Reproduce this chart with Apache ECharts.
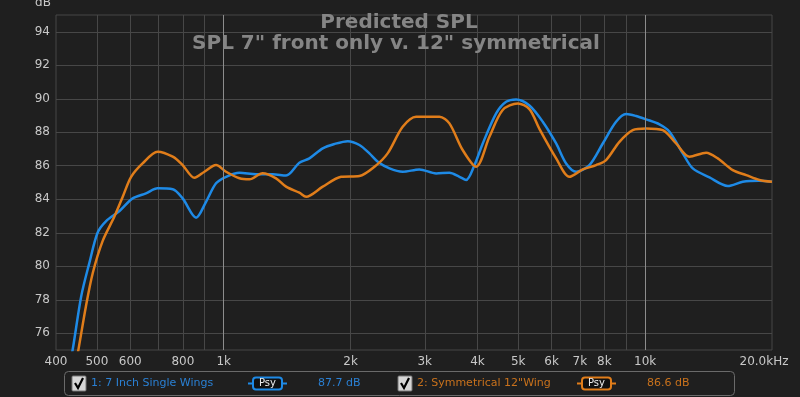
<!DOCTYPE html>
<html>
<head>
<meta charset="utf-8">
<script src="https://cdn.jsdelivr.net/npm/echarts@6.0.0/dist/echarts.min.js"></script>
<style>
  html, body { margin: 0; padding: 0; background: #1f1f1f; }
  #chart { width: 800px; height: 397px; }
</style>
</head>
<body>
<div id="chart"></div>
<script>
// frequency (Hz) / level (dB)
var blueFreq = [432, 438, 459, 480, 502, 526, 566, 608, 654, 697, 757, 799, 860, 908, 959, 1013, 1090, 1194, 1307, 1406,
    1512, 1597, 1718, 1831, 1970, 2099, 2217, 2321, 2474, 2659, 2913, 3192, 3432, 3626, 3760, 3936, 4118, 4431, 4679, 4943,
    5314, 5715, 6150, 6494, 6860, 7375, 7934, 8531, 9016, 9520, 10056, 10815, 11423, 12283, 12973, 14212, 15704, 17046, 18667, 20000];
var blueDb = [74.4, 75.0, 78.2, 80.2, 82.0, 82.7, 83.3, 84.05, 84.35, 84.65, 84.6, 84.05, 82.9, 83.85, 84.95, 85.34, 85.58, 85.49, 85.49, 85.42,
    86.18, 86.44, 87.04, 87.3, 87.47, 87.24, 86.74, 86.24, 85.84, 85.64, 85.78, 85.54, 85.58, 85.34, 85.15, 86.04, 87.33, 89.13, 89.82, 89.96,
    89.6, 88.63, 87.33, 86.14, 85.64, 86.04, 87.33, 88.63, 89.09, 88.97, 88.77, 88.47, 88.03, 86.74, 85.84, 85.3, 84.79, 85.04, 85.1, 85.04];

var orangeFreq = [447, 452, 471, 489, 516, 550, 576, 603, 642, 697, 757, 799, 852, 900, 959, 1013, 1090, 1151, 1237, 1331,
    1406, 1512, 1569, 1718, 1899, 2099, 2279, 2449, 2659, 2861, 3251, 3432, 3690, 3971, 4271, 4592, 4986, 5314, 5612, 6150,
    6613, 7112, 7651, 8078, 8690, 9346, 10056, 11011, 11842, 12743, 13958, 14871, 16143, 17370, 18667, 20000];
var orangeDb = [74.4, 75.0, 77.6, 79.6, 81.5, 82.95, 84.15, 85.34, 86.14, 86.84, 86.54, 86.04, 85.28, 85.64, 86.04, 85.64, 85.25, 85.19, 85.55, 85.25,
    84.75, 84.39, 84.15, 84.75, 85.34, 85.39, 85.94, 86.74, 88.33, 88.93, 88.93, 88.53, 86.94, 85.94, 87.73, 89.33, 89.72, 89.38, 88.2, 86.44,
    85.34, 85.78, 86.04, 86.34, 87.43, 88.13, 88.23, 88.13, 87.33, 86.54, 86.78, 86.44, 85.74, 85.44, 85.15, 85.04];

var gridFreqs = [500, 600, 700, 800, 900, 1000, 2000, 3000, 4000, 5000, 6000, 7000, 8000, 9000, 10000];
var majorFreqs = [1000, 10000];
var labelFreqs = [400, 500, 600, 800, 1000, 2000, 3000, 4000, 5000, 6000, 7000, 8000, 10000, 20000];
var labelTexts = ['400', '500', '600', '800', '1k', '2k', '3k', '4k', '5k', '6k', '7k', '8k', '10k', '20.0kHz'];
var dbTicks = [76, 78, 80, 82, 84, 86, 88, 90, 92, 94];

var legendNames = ['1: 7 Inch Single Wings', '2: Symmetrical 12"Wing'];
var legendValues = ['87.7 dB', '86.6 dB'];

var blue = '#1e8ae6';
var orange = '#e07d1a';

function pairs(freq, db) {
    return freq.map(function (f, i) { return [Math.log10(f), db[i]]; });
}

var chart = echarts.init(document.getElementById('chart'));

// legend strip drawn as graphic elements
function legendItem(x0, name, value, color, textColor, psyX, valX) {
    return [
        { type: 'rect', shape: { x: x0, y: 376, width: 14, height: 15, r: 1 },
          style: { fill: '#d6d6d6', stroke: '#777', lineWidth: 1 }, z: 100 },
        { type: 'polyline', shape: { points: [[x0 + 3, x0 ? 383 : 383], [x0 + 6, 388], [x0 + 11, 378]] },
          style: { stroke: '#000', lineWidth: 2.2, fill: null }, z: 101 },
        { type: 'text', x: x0 + 19, y: 383.5,
          style: { text: name, fill: textColor, font: '11px "DejaVu Sans"', textVerticalAlign: 'middle' }, z: 100 },
        { type: 'line', shape: { x1: psyX - 5, y1: 383.5, x2: psyX + 34, y2: 383.5 },
          style: { stroke: color, lineWidth: 2 }, z: 100 },
        { type: 'rect', shape: { x: psyX, y: 377.5, width: 29, height: 12, r: 3 },
          style: { fill: '#111', stroke: color, lineWidth: 2 }, z: 101 },
        { type: 'text', x: psyX + 14.5, y: 383.5,
          style: { text: 'Psy', fill: '#eee', font: '10px "DejaVu Sans"', textAlign: 'center', textVerticalAlign: 'middle' }, z: 102 },
        { type: 'text', x: valX, y: 383.5,
          style: { text: value, fill: textColor, font: '11px "DejaVu Sans"', textVerticalAlign: 'middle' }, z: 100 }
    ];
}

var graphics = [
    { type: 'text', x: 399, y: 23,
      style: { text: 'Predicted SPL', fill: '#858585', font: 'bold 20px "DejaVu Sans"', textAlign: 'center', textVerticalAlign: 'middle' }, z: 100 },
    { type: 'text', x: 396, y: 44,
      style: { text: 'SPL 7" front only v. 12" symmetrical', fill: '#858585', font: 'bold 20px "DejaVu Sans"', textAlign: 'center', textVerticalAlign: 'middle' }, z: 100 },
    { type: 'text', x: 43, y: 3,
      style: { text: 'dB', fill: '#c8c8c8', font: '12px "DejaVu Sans"', textAlign: 'center', textVerticalAlign: 'middle' }, z: 100 },
    { type: 'rect', shape: { x: 64.5, y: 371.5, width: 670, height: 24, r: 4 },
      style: { fill: 'transparent', stroke: '#6a6a6a', lineWidth: 1 }, z: 99 }
].concat(
    legendItem(72, legendNames[0], legendValues[0], blue, '#2a80d4', 253, 318),
    legendItem(398, legendNames[1], legendValues[1], orange, '#c9721c', 582, 647)
);

var option = {
    backgroundColor: '#1f1f1f',
    animation: false,
    grid: {
        left: 56, right: 28, top: 15, bottom: 47,
        show: true, borderColor: '#474747', borderWidth: 1
    },
    xAxis: {
        type: 'value',
        min: Math.log10(400),
        max: Math.log10(20000),
        axisLine: { show: false },
        axisTick: { show: false, customValues: gridFreqs.map(Math.log10) },
        splitLine: { show: true, lineStyle: { color: '#474747', width: 1 } },
        axisLabel: {
            customValues: labelFreqs.map(Math.log10),
            color: '#c8c8c8',
            fontFamily: 'DejaVu Sans',
            fontSize: 12,
            margin: 6,
            formatter: function (v) {
                var best = 0;
                labelFreqs.forEach(function (f, i) {
                    if (Math.abs(Math.log10(f) - v) < Math.abs(Math.log10(labelFreqs[best]) - v)) best = i;
                });
                return best === labelFreqs.length - 1 ? '{end|' + labelTexts[best] + '}' : labelTexts[best];
            },
            rich: { end: { color: '#c8c8c8', fontFamily: 'DejaVu Sans', fontSize: 12, padding: [0, 16, 0, 0] } }
        }
    },
    yAxis: {
        type: 'value',
        min: 75,
        max: 95,
        axisLine: { show: false },
        axisTick: { show: false, customValues: dbTicks },
        splitLine: { show: true, lineStyle: { color: '#474747', width: 1 } },
        axisLabel: {
            customValues: dbTicks,
            color: '#c8c8c8',
            fontFamily: 'DejaVu Sans',
            fontSize: 12,
            margin: 6
        }
    },
    series: [
        {
            type: 'line',
            data: [],
            z: 1,
            silent: true,
            markLine: {
                silent: true,
                symbol: 'none',
                label: { show: false },
                lineStyle: { color: '#8c8c8c', width: 1, type: 'solid' },
                data: majorFreqs.map(function (f) { return { xAxis: Math.log10(f) }; })
            }
        },
        {
            name: legendNames[0],
            type: 'line',
            data: pairs(blueFreq, blueDb),
            smooth: 0.3,
            showSymbol: false,
            clip: true,
            z: 3,
            lineStyle: { color: blue, width: 2.5 }
        },
        {
            name: legendNames[1],
            type: 'line',
            data: pairs(orangeFreq, orangeDb),
            smooth: 0.3,
            showSymbol: false,
            clip: true,
            z: 4,
            lineStyle: { color: orange, width: 2.5 }
        }
    ],
    graphic: graphics
};

chart.setOption(option);
</script>
</body>
</html>
